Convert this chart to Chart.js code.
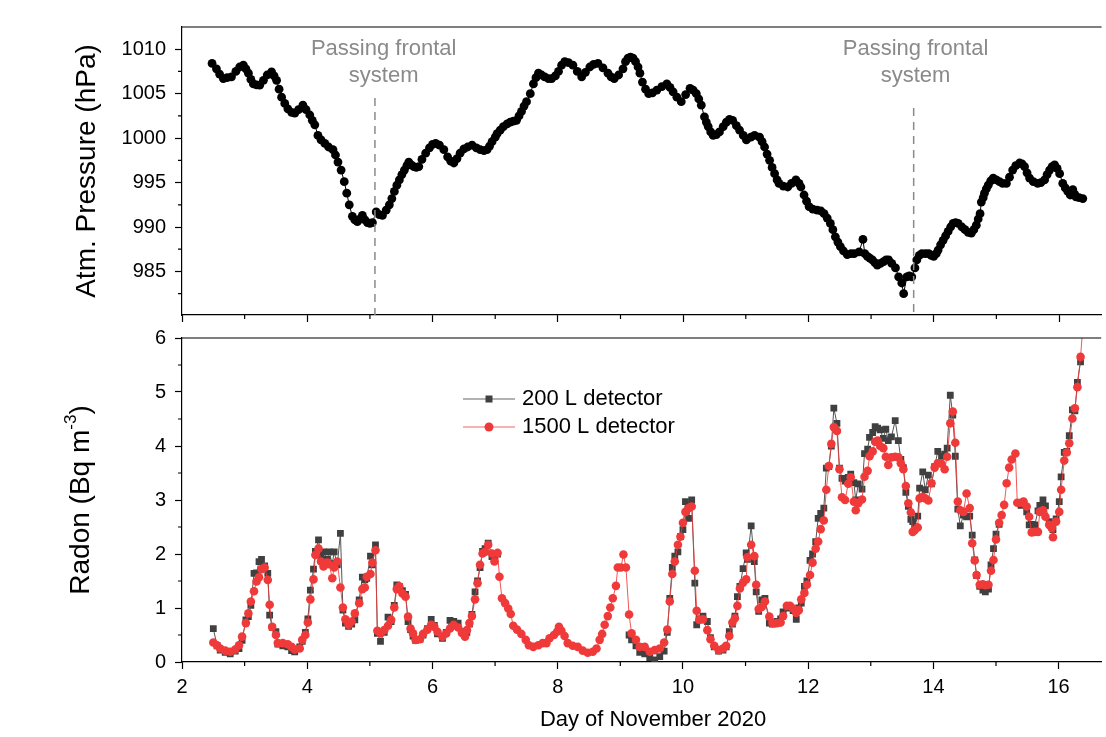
<!DOCTYPE html>
<html>
<head>
<meta charset="utf-8">
<script src="https://cdn.jsdelivr.net/npm/chart.js@4/dist/chart.umd.min.js"></script>
<style>
  body { margin: 0; background: #fff; }
  #wrap { position: relative; width: 1106px; height: 737px; }
  #top { position: absolute; left: 0; top: 0; }
  #bottom { position: absolute; left: 0; top: 318px; }
</style>
</head>
<body>
<div id="wrap">
  <canvas id="top" width="1106" height="330"></canvas>
  <canvas id="bottom" width="1106" height="419"></canvas>
</div>
<script>
// ---- data ----
const pressureDays = [2.48,2.55,2.60,2.66,2.72,2.79,2.86,2.92,2.98,3.02,3.06,3.10,3.14,3.19,3.24,3.30,3.36,3.43,3.47,3.51,3.55,3.59,3.64,3.69,3.75,3.80,3.86,3.93,3.98,4.04,4.08,4.12,4.17,4.22,4.28,4.34,4.41,4.45,4.49,4.54,4.59,4.63,4.67,4.72,4.76,4.80,4.84,4.88,4.92,4.96,5.00,5.04,5.10,5.15,5.20,5.26,5.31,5.35,5.39,5.43,5.47,5.51,5.55,5.59,5.62,5.66,5.70,5.74,5.78,5.83,5.89,5.95,6.00,6.05,6.11,6.18,6.24,6.29,6.34,6.39,6.44,6.50,6.56,6.63,6.70,6.76,6.82,6.87,6.91,6.95,7.00,7.03,7.08,7.13,7.19,7.24,7.29,7.34,7.38,7.42,7.46,7.50,7.56,7.61,7.65,7.69,7.74,7.79,7.85,7.90,7.96,8.01,8.06,8.11,8.17,8.24,8.31,8.38,8.44,8.51,8.57,8.64,8.72,8.80,8.85,8.90,8.97,9.04,9.08,9.12,9.16,9.20,9.24,9.28,9.31,9.35,9.40,9.45,9.51,9.58,9.66,9.74,9.79,9.84,9.90,9.97,10.04,10.11,10.16,10.21,10.25,10.29,10.34,10.37,10.40,10.44,10.48,10.53,10.58,10.64,10.69,10.74,10.79,10.85,10.90,10.96,11.01,11.08,11.14,11.22,11.26,11.30,11.34,11.38,11.42,11.46,11.50,11.53,11.60,11.67,11.73,11.80,11.85,11.88,11.93,11.97,12.01,12.07,12.14,12.20,12.25,12.30,12.35,12.39,12.43,12.47,12.51,12.56,12.62,12.68,12.73,12.81,12.87,12.90,12.94,12.98,13.02,13.06,13.10,13.15,13.20,13.24,13.28,13.33,13.39,13.44,13.49,13.52,13.57,13.61,13.65,13.70,13.73,13.77,13.81,13.87,13.92,13.96,14.00,14.04,14.07,14.11,14.15,14.19,14.23,14.27,14.31,14.35,14.39,14.45,14.50,14.55,14.60,14.64,14.68,14.71,14.74,14.76,14.79,14.81,14.84,14.87,14.91,14.95,15.00,15.05,15.10,15.16,15.21,15.26,15.31,15.37,15.41,15.45,15.49,15.53,15.59,15.66,15.71,15.77,15.81,15.85,15.89,15.93,15.97,16.01,16.06,16.10,16.14,16.18,16.22,16.25,16.27,16.32,16.38];
const pressureHpa = [1008.4,1007.8,1007.2,1006.7,1006.8,1006.9,1007.5,1008.0,1008.2,1007.8,1007.3,1006.6,1006.1,1006.0,1005.95,1006.5,1007.1,1007.45,1007.0,1006.5,1005.5,1004.6,1003.9,1003.3,1002.9,1002.8,1003.2,1003.7,1003.2,1002.6,1002.0,1001.5,1000.3,999.8,999.4,999.0,998.7,998.1,997.3,996.4,995.1,993.8,992.5,991.2,990.8,990.6,990.9,991.3,990.8,990.5,990.4,990.5,991.7,991.4,991.3,991.9,992.5,993.2,994.0,994.7,995.3,995.9,996.4,996.9,997.3,997.0,996.8,996.7,996.8,997.6,998.3,998.9,999.3,999.4,999.2,998.7,997.9,997.4,997.2,997.7,998.3,998.8,999.0,999.2,998.9,998.7,998.6,998.7,999.1,999.6,1000.1,1000.5,1000.9,1001.3,1001.6,1001.8,1001.9,1002.0,1002.5,1003.0,1003.6,1004.1,1005.0,1006.1,1006.8,1007.3,1007.1,1006.9,1006.7,1006.7,1007.0,1007.5,1008.2,1008.6,1008.5,1008.2,1007.5,1006.9,1007.4,1008.0,1008.3,1008.4,1007.9,1007.3,1006.9,1006.7,1007.1,1007.8,1008.6,1009.0,1009.1,1009.0,1008.6,1008.0,1007.3,1006.3,1005.5,1005.0,1005.1,1005.4,1005.8,1006.1,1005.7,1005.2,1004.6,1004.1,1004.9,1005.6,1005.4,1005.0,1004.4,1003.7,1002.4,1001.8,1001.3,1000.7,1000.3,1000.4,1000.7,1001.3,1001.8,1002.1,1002.0,1001.4,1000.9,1000.3,999.8,1000.1,1000.3,1000.1,999.6,999.0,998.2,997.5,996.7,996.0,995.3,994.9,994.6,994.5,994.9,995.3,994.9,994.5,993.6,992.9,992.3,992.0,991.9,991.8,991.5,991.0,990.4,989.7,988.9,988.3,987.8,987.3,986.9,987.0,987.0,987.2,988.6,987.0,986.7,986.5,986.3,986.0,985.7,985.9,986.1,986.3,986.3,985.9,985.4,984.4,983.7,982.5,984.4,984.5,984.4,985.4,986.3,986.8,987.0,987.0,987.0,986.8,986.7,987.0,987.4,988.0,988.5,989.0,989.5,990.0,990.4,990.5,990.4,990.0,989.7,989.4,989.3,989.7,990.2,990.9,991.5,992.8,993.3,993.8,994.3,994.7,995.2,995.5,995.3,995.1,994.9,994.9,995.6,996.4,996.9,997.2,997.1,996.8,996.1,995.5,995.1,994.9,995.0,995.3,995.9,996.4,996.8,997.0,996.6,996.0,994.9,994.4,994.0,993.6,994.2,993.7,993.4,993.3,993.2];

const radonDays = [2.50,2.56,2.61,2.69,2.77,2.85,2.91,2.96,3.02,3.06,3.10,3.15,3.19,3.23,3.27,3.32,3.37,3.40,3.44,3.50,3.53,3.61,3.69,3.75,3.80,3.88,3.92,3.97,4.01,4.05,4.10,4.13,4.18,4.22,4.26,4.32,4.35,4.40,4.43,4.48,4.53,4.57,4.61,4.66,4.71,4.76,4.83,4.88,4.92,4.95,5.01,5.04,5.09,5.12,5.17,5.23,5.29,5.34,5.39,5.43,5.47,5.52,5.57,5.61,5.65,5.69,5.73,5.80,5.85,5.92,5.98,6.03,6.08,6.16,6.22,6.28,6.34,6.41,6.47,6.52,6.55,6.59,6.63,6.68,6.72,6.76,6.80,6.84,6.89,6.95,6.99,7.04,
  7.07,7.11,7.16,7.21,7.25,7.29,7.35,7.42,7.49,7.54,7.61,7.69,7.76,7.82,7.87,7.94,7.99,8.02,8.06,8.11,8.16,8.24,8.32,8.40,8.48,8.56,8.62,8.67,8.71,8.75,8.80,8.84,8.88,8.93,8.96,9.01,9.05,9.09,
  9.14,9.18,9.25,9.31,9.39,9.47,9.55,9.63,9.70,9.75,9.79,9.83,9.87,9.92,9.96,10.00,10.04,10.09,10.14,10.19,10.22,10.26,10.32,10.39,10.44,10.50,10.57,10.64,10.69,10.74,10.79,10.83,10.87,10.91,10.96,11.01,11.03,11.09,11.14,11.17,11.21,11.26,11.31,11.38,11.43,11.50,11.56,11.60,11.66,11.71,11.76,11.81,11.85,11.89,11.94,11.98,12.03,12.07,12.12,12.16,12.20,12.25,12.29,12.33,12.37,12.41,12.46,12.50,12.54,12.59,12.64,12.68,12.73,12.76,12.80,12.86,12.90,12.95,12.98,13.03,13.07,13.11,13.15,13.20,13.24,13.28,13.33,13.39,13.44,13.48,13.52,13.56,13.60,13.64,13.67,13.70,13.75,13.78,13.83,13.87,13.92,13.97,14.02,14.07,14.13,14.18,14.22,14.27,14.31,14.35,14.39,14.43,14.48,14.53,14.58,14.62,14.66,14.69,14.74,14.79,14.83,14.88,14.92,14.96,15.00,15.05,
  15.09,15.13,15.17,15.21,15.25,15.31,15.34,
  15.40,15.44,15.49,15.53,15.57,15.62,15.67,15.70,15.75,15.79,15.85,15.89,15.91,15.96,16.01,16.04,16.09,16.13,16.17,16.22,16.26,16.30,16.35,16.40];

const radon1500 = [0.36,0.31,0.25,0.21,0.19,0.23,0.31,0.47,0.72,0.90,1.12,1.31,1.49,1.57,1.72,1.75,1.52,1.06,0.65,0.50,0.35,0.35,0.33,0.28,0.23,0.25,0.41,0.50,0.73,1.16,1.53,1.98,2.10,1.86,1.77,1.84,1.81,1.55,1.75,1.86,1.38,1.01,0.79,0.69,0.75,0.90,1.09,1.35,1.38,1.58,1.63,1.84,2.07,0.58,0.53,0.59,0.67,0.78,1.01,1.35,1.40,1.27,1.21,0.84,0.62,0.53,0.41,0.42,0.52,0.60,0.69,0.65,0.56,0.47,0.53,0.62,0.69,0.64,0.54,0.47,0.59,0.72,0.85,1.16,1.46,1.80,2.01,2.04,2.17,2.01,1.86,2.02,
  1.58,1.18,1.09,0.99,0.89,0.67,0.60,0.52,0.41,0.31,0.28,0.31,0.35,0.35,0.44,0.50,0.56,0.65,0.58,0.48,0.35,0.30,0.28,0.21,0.17,0.19,0.25,0.41,0.52,0.69,0.85,1.01,1.18,1.41,1.75,1.75,1.99,1.75,
  0.88,0.53,0.41,0.28,0.28,0.19,0.22,0.25,0.36,0.60,1.12,1.63,1.86,2.17,2.32,2.58,2.78,2.85,2.88,1.69,0.95,0.78,0.79,0.59,0.42,0.30,0.22,0.25,0.30,0.48,0.73,0.81,1.04,1.36,1.47,1.53,1.94,2.17,1.96,1.43,0.98,1.02,1.12,0.84,0.72,0.72,0.73,0.85,1.04,1.04,0.99,0.91,0.96,1.16,1.28,1.43,1.61,1.84,2.10,2.23,2.46,2.62,3.19,3.63,4.04,4.35,4.28,3.57,3.05,3.00,3.30,3.42,2.97,2.81,2.94,3.01,3.43,3.54,3.81,3.90,4.08,4.10,4.00,3.96,3.80,3.65,3.79,3.80,3.79,3.68,3.57,3.26,2.94,2.77,2.41,2.44,2.49,3.03,3.06,3.03,2.99,3.31,3.60,3.68,3.67,3.57,3.80,4.42,4.64,4.06,2.97,2.81,2.78,3.12,2.85,2.20,1.88,1.61,1.43,1.44,1.42,1.43,1.69,1.89,2.27,2.58,
  2.72,2.91,3.31,3.60,3.75,3.86,2.95,
  2.95,2.97,2.88,2.69,2.40,2.41,2.41,2.78,2.81,2.69,2.54,2.48,2.31,2.60,2.78,3.19,3.73,3.88,4.05,4.51,4.70,5.09,5.65,6.40];

const radon200 = [0.62,0.30,0.22,0.18,0.15,0.20,0.25,0.40,0.78,0.84,1.05,1.64,1.65,1.86,1.90,1.78,1.64,0.87,0.64,0.56,0.33,0.30,0.28,0.21,0.19,0.28,0.38,0.55,0.80,1.33,1.72,2.05,2.26,1.95,2.04,1.90,2.04,1.82,2.04,1.80,2.38,0.96,0.72,0.66,0.70,0.78,1.15,1.57,1.52,1.55,1.96,1.80,2.17,0.53,0.38,0.55,0.83,0.75,1.05,1.43,1.40,1.32,1.25,0.75,0.60,0.48,0.40,0.42,0.50,0.62,0.79,0.68,0.52,0.44,0.55,0.77,0.75,0.72,0.56,0.50,0.55,0.70,0.88,1.30,1.50,1.75,2.05,2.10,2.20,1.95,1.95,2.00,
  null,null,null,null,null,null,null,null,null,null,null,null,null,null,null,null,null,null,null,null,null,null,null,null,null,null,null,null,null,null,null,null,null,null,null,null,null,null,
  0.50,0.41,0.30,0.18,0.15,0.08,0.04,0.10,0.20,0.55,1.18,1.75,1.96,2.04,2.32,2.45,2.97,2.66,3.00,1.46,0.69,0.80,0.85,0.75,0.45,0.28,0.20,0.22,0.28,0.56,0.70,0.85,1.21,1.40,1.73,2.02,1.90,2.52,1.86,1.30,0.94,1.15,1.18,0.72,0.70,0.75,0.80,0.93,1.00,1.02,0.95,0.79,1.00,1.09,1.40,1.50,1.88,2.00,2.23,2.66,2.75,2.85,3.59,3.62,4.00,4.70,4.42,3.59,3.40,3.35,3.42,3.48,3.32,3.00,3.30,3.20,3.86,3.94,4.16,4.25,4.36,4.33,4.30,4.14,4.31,4.10,4.17,4.47,4.10,3.75,3.60,3.14,2.88,2.64,2.60,2.50,2.70,3.22,3.52,3.19,3.46,3.30,3.62,3.90,3.81,3.85,3.96,4.94,4.57,3.81,2.83,2.52,2.72,2.69,2.70,2.35,1.89,1.60,1.40,1.33,1.30,1.35,1.80,2.10,2.37,2.55,
  null,null,null,null,null,null,null,
  2.90,2.92,2.78,2.54,2.55,2.54,2.80,2.90,3.00,2.89,2.60,2.50,2.45,2.65,2.97,3.43,3.88,3.90,4.19,4.67,4.65,5.18,5.56,null];

const dayTicks = [2, 4, 6, 8, 10, 12, 14, 16];
const dayMinor = [3, 5, 7, 9, 11, 13, 15];
const pressureTicks = [985, 990, 995, 1000, 1005, 1010];
const pressureMinor = [982.5, 987.5, 992.5, 997.5, 1002.5, 1007.5];
const radonTicks = [0, 1, 2, 3, 4, 5, 6];
const radonMinor = [0.5, 1.5, 2.5, 3.5, 4.5, 5.5];
const frontDays = [5.08, 13.68];

const FONT = "'Liberation Sans', Arial, sans-serif";
const RED = 'rgb(240,58,58)';
const GREY = '#404040';
const BOTTOM_TOP = 318; // page offset of the lower canvas

Chart.defaults.font.family = FONT;
Chart.defaults.color = '#000';
Chart.defaults.animation = false;

// ---- small helpers / plugins ----
function xy(xs, ys) {
  return xs.map((d, i) => ({ x: d, y: ys[i] }));
}

const frame = {
  id: 'frame',
  afterDraw(chart, args, opts) {
    const { ctx, chartArea: a, scales: { x, y } } = chart;
    ctx.save();
    ctx.strokeStyle = '#000';
    ctx.lineWidth = 1.2;
    ctx.beginPath();
    ctx.moveTo(a.left, a.top);
    ctx.lineTo(a.right, a.top);
    opts.xMinor.forEach(v => {
      const px = x.getPixelForValue(v);
      ctx.moveTo(px, a.bottom);
      ctx.lineTo(px, a.bottom + 4);
    });
    opts.yMinor.forEach(v => {
      const py = y.getPixelForValue(v);
      ctx.moveTo(a.left, py);
      ctx.lineTo(a.left - 4, py);
    });
    ctx.stroke();
    ctx.restore();
  }
};

const fronts = {
  id: 'fronts',
  afterDatasetsDraw(chart) {
    const { ctx, chartArea: a, scales: { x } } = chart;
    const tops = [98, 108];
    const labelDays = [5.22, 13.71];
    ctx.save();
    ctx.strokeStyle = '#8a8a8a';
    ctx.lineWidth = 1.5;
    ctx.setLineDash([8, 6]);
    frontDays.forEach((d, i) => {
      const px = x.getPixelForValue(d);
      ctx.beginPath();
      ctx.moveTo(px, tops[i]);
      ctx.lineTo(px, a.bottom);
      ctx.stroke();
    });
    ctx.setLineDash([]);
    ctx.fillStyle = '#8a8a8a';
    ctx.font = '22px ' + FONT;
    ctx.textAlign = 'center';
    ctx.textBaseline = 'middle';
    labelDays.forEach(d => {
      const px = x.getPixelForValue(d);
      ctx.fillText('Passing frontal', px, 49);
      ctx.fillText('system', px, 76);
    });
    ctx.restore();
  }
};

const pressureTitle = {
  id: 'pressureTitle',
  afterDraw(chart) {
    const { ctx, chartArea: a } = chart;
    ctx.save();
    ctx.translate(87, (a.top + a.bottom) / 2);
    ctx.rotate(-Math.PI / 2);
    ctx.font = '28px ' + FONT;
    ctx.fillStyle = '#000';
    ctx.textAlign = 'center';
    ctx.textBaseline = 'middle';
    ctx.fillText('Atm. Pressure (hPa)', 0, 0);
    ctx.restore();
  }
};

const radonTitles = {
  id: 'radonTitles',
  afterDraw(chart) {
    const { ctx, chartArea: a } = chart;
    ctx.save();
    ctx.fillStyle = '#000';
    // y title with superscript
    ctx.translate(81, (a.top + a.bottom) / 2);
    ctx.rotate(-Math.PI / 2);
    ctx.textBaseline = 'middle';
    ctx.textAlign = 'left';
    const big = '28px ' + FONT, small = '17px ' + FONT;
    ctx.font = big;
    const w1 = ctx.measureText('Radon (Bq m').width;
    const w3 = ctx.measureText(')').width;
    ctx.font = small;
    const w2 = ctx.measureText('-3').width;
    let sx = -(w1 + w2 + w3) / 2;
    ctx.font = big;
    ctx.fillText('Radon (Bq m', sx, 0);
    ctx.font = small;
    ctx.fillText('-3', sx + w1, -10);
    ctx.font = big;
    ctx.fillText(')', sx + w1 + w2, 0);
    ctx.restore();
    // x title
    ctx.save();
    ctx.font = '22px ' + FONT;
    ctx.fillStyle = '#000';
    ctx.textAlign = 'center';
    ctx.textBaseline = 'middle';
    ctx.fillText('Day of November 2020', 653, 720 - BOTTOM_TOP);
    ctx.restore();
  }
};

const radonLegend = {
  id: 'radonLegend',
  afterDraw(chart) {
    const { ctx } = chart;
    const rows = [
      { label: '200 L detector', line: '#666', fill: GREY, shape: 'rect', y: 399 - BOTTOM_TOP },
      { label: '1500 L detector', line: 'rgba(240,58,58,0.8)', fill: RED, shape: 'circle', y: 427 - BOTTOM_TOP }
    ];
    ctx.save();
    rows.forEach(r => {
      ctx.strokeStyle = r.line;
      ctx.lineWidth = 1.2;
      ctx.beginPath();
      ctx.moveTo(463, r.y);
      ctx.lineTo(515, r.y);
      ctx.stroke();
      ctx.fillStyle = r.fill;
      if (r.shape === 'rect') {
        ctx.fillRect(489 - 3.5, r.y - 3.5, 7, 7);
      } else {
        ctx.beginPath();
        ctx.arc(489, r.y, 4.5, 0, Math.PI * 2);
        ctx.fill();
      }
      ctx.fillStyle = '#000';
      ctx.font = '22px ' + FONT;
      ctx.textAlign = 'left';
      ctx.textBaseline = 'middle';
      ctx.fillText(r.label, 522, r.y);
    });
    ctx.restore();
  }
};

function xScale(showLabels, height) {
  return {
    type: 'linear',
    min: 2,
    max: 16.68,
    afterBuildTicks: s => { s.ticks = dayTicks.map(v => ({ value: v })); },
    afterFit: s => { s.height = height; s.paddingLeft = 0; s.paddingRight = 0; },
    ticks: {
      font: { size: 20 },
      padding: 6,
      maxRotation: 0,
      autoSkip: false,
      callback: v => showLabels ? String(v) : ''
    },
    grid: { drawOnChartArea: false, drawTicks: true, tickLength: 7, tickColor: '#000', tickWidth: 1.2 },
    border: { display: true, color: '#000', width: 1.2 }
  };
}

function yScale(min, max, ticks) {
  return {
    type: 'linear',
    min: min,
    max: max,
    afterBuildTicks: s => { s.ticks = ticks.map(v => ({ value: v })); },
    afterFit: s => { s.width = 182; s.paddingTop = 0; s.paddingBottom = 0; },
    ticks: { font: { size: 20 }, padding: 9, autoSkip: false, callback: v => String(v) },
    grid: { drawOnChartArea: false, drawTicks: true, tickLength: 7, tickColor: '#000', tickWidth: 1.2 },
    border: { display: true, color: '#000', width: 1.2 }
  };
}

// ---- top panel: pressure ----
new Chart(document.getElementById('top'), {
  type: 'scatter',
  data: {
    datasets: [{
      label: 'Atm. Pressure',
      data: xy(pressureDays, pressureHpa),
      showLine: true,
      borderColor: '#000',
      borderWidth: 1,
      backgroundColor: '#000',
      pointRadius: 4.4,
      pointBorderWidth: 0,
      pointHoverRadius: 4.4
    }]
  },
  options: {
    responsive: false,
    devicePixelRatio: 1,
    layout: { padding: { top: 27, left: 0, right: 0, bottom: 0 } },
    plugins: {
      legend: { display: false },
      tooltip: { enabled: false },
      frame: { xMinor: dayMinor, yMinor: pressureMinor }
    },
    scales: {
      x: xScale(false, 15),
      y: yScale(980.1, 1012.5, pressureTicks)
    }
  },
  plugins: [frame, fronts, pressureTitle]
});

// ---- bottom panel: radon ----
new Chart(document.getElementById('bottom'), {
  type: 'scatter',
  data: {
    datasets: [{
      label: '1500 L detector',
      data: xy(radonDays, radon1500),
      order: 0,
      showLine: true,
      borderColor: 'rgba(240,58,58,0.85)',
      borderWidth: 1,
      backgroundColor: RED,
      pointRadius: 4.3,
      pointBorderWidth: 0,
      pointHoverRadius: 4.3
    }, {
      label: '200 L detector',
      data: xy(radonDays, radon200),
      order: 1,
      showLine: true,
      spanGaps: false,
      borderColor: '#555',
      borderWidth: 1,
      backgroundColor: GREY,
      pointStyle: 'rect',
      pointRadius: 4.8,
      pointBorderWidth: 0,
      pointHoverRadius: 4.8
    }]
  },
  options: {
    responsive: false,
    devicePixelRatio: 1,
    layout: { padding: { top: 338 - BOTTOM_TOP, left: 0, right: 0, bottom: 0 } },
    plugins: {
      legend: { display: false },
      tooltip: { enabled: false },
      frame: { xMinor: dayMinor, yMinor: radonMinor }
    },
    scales: {
      x: xScale(true, 75),
      y: yScale(0, 6, radonTicks)
    }
  },
  plugins: [frame, radonTitles, radonLegend]
});
</script>
</body>
</html>
